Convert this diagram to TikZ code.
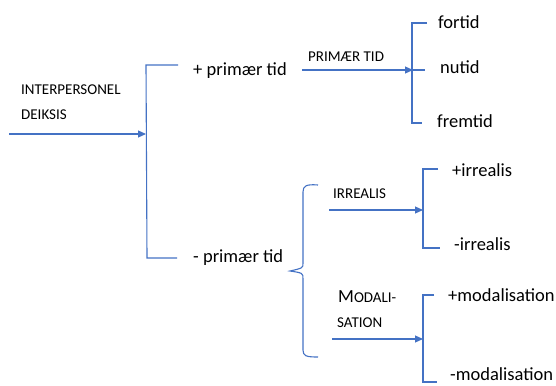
\documentclass[tikz,border=0pt]{standalone}
\usepackage{fontspec}
\setmainfont{Carlito}
\usetikzlibrary{arrows.meta}
\definecolor{lineblue}{HTML}{4472C4}
\tikzset{
  conn/.style={draw=lineblue, line width=1.1pt},
  arr/.style={conn, -{Triangle[length=8pt,width=7pt]}},
  big/.style={anchor=base west, inner sep=0pt, font=\fontsize{18.5}{20}\selectfont},
  small/.style={anchor=base west, inner sep=0pt, font=\fontsize{15}{16}\selectfont},
}
\begin{document}
\begin{tikzpicture}[x=1pt,y=-1pt]
\useasboundingbox (0,0) rectangle (556,385);
% texts
\node[small] (ip) at (21,95) {INTERPERSONEL};
\node[small] (dk) at (21,119) {DEIKSIS};
\node[big] (ppt) at (193,76) {+ primær tid};
\node[big] (mpt) at (193,262) {- primær tid};
\node[small] (plab) at (308,62) {PRIMÆR TID};
\node[big] (fortid) at (438,29) {fortid};
\node[big] (nutid) at (440,74) {nutid};
\node[big] (fremtid) at (437,127) {fremtid};
\node[small] (irlab) at (333,198) {IRREALIS};
\node[big] (pir) at (452,176) {+irrealis};
\node[big] (mir) at (454,250) {-irrealis};
\node[small] (modlab1) at (338,302) {{\fontsize{18.5}{20}\selectfont M}ODALI-};
\node[small] (modlab2) at (337,327) {SATION};
\node[big] (pmod) at (448,301) {+modalisation};
\node[big] (mmod) at (450,380) {-modalisation};
% bracket 1
\coordinate (a0) at (9,134);
\coordinate (b1m) at (146,134);
\coordinate (b1t) at (146,65);
\coordinate (b1tr) at (178,65);
\coordinate (b1b) at (147,258);
\coordinate (b1br) at (177,258);
\draw[conn] (b1tr) -- (b1t) -- (b1b) -- (b1br);
\draw[arr] (a0) -- (b1m);
% bracket 2
\coordinate (a1) at (302,70);
\coordinate (b2m) at (413,70);
\coordinate (b2mr) at (425,70);
\coordinate (b2t) at (412,23);
\coordinate (b2tr) at (427,23);
\coordinate (b2b) at (412,123);
\coordinate (b2br) at (422,123);
\draw[conn] (b2tr) -- (b2t) -- (b2b) -- (b2br);
\draw[conn] (b2m) -- (b2mr);
\draw[arr] (a1) -- (b2m);
% brace
\draw[conn] (318,185) .. controls (306,184) and (303,186) .. (303,192) -- (303,263)
  .. controls (303,268) .. (290,271) .. controls (303,273) .. (303,279) -- (303,350)
  .. controls (303,356) and (306,357) .. (318,357);
% bracket 3
\coordinate (a2) at (329,210);
\coordinate (b3m) at (423,210);
\coordinate (b3t) at (423,169);
\coordinate (b3tr) at (438,169);
\coordinate (b3b) at (423,248);
\coordinate (b3br) at (440,248);
\draw[conn] (b3tr) -- (b3t) -- (b3b) -- (b3br);
\draw[arr] (a2) -- (b3m);
% bracket 4
\coordinate (a3) at (332,339);
\coordinate (b4m) at (423,339);
\coordinate (b4t) at (423,295);
\coordinate (b4tr) at (434,295);
\coordinate (b4b) at (423,382);
\coordinate (b4br) at (437,382);
\draw[conn] (b4tr) -- (b4t) -- (b4b) -- (b4br);
\draw[arr] (a3) -- (b4m);
\end{tikzpicture}
\end{document}
